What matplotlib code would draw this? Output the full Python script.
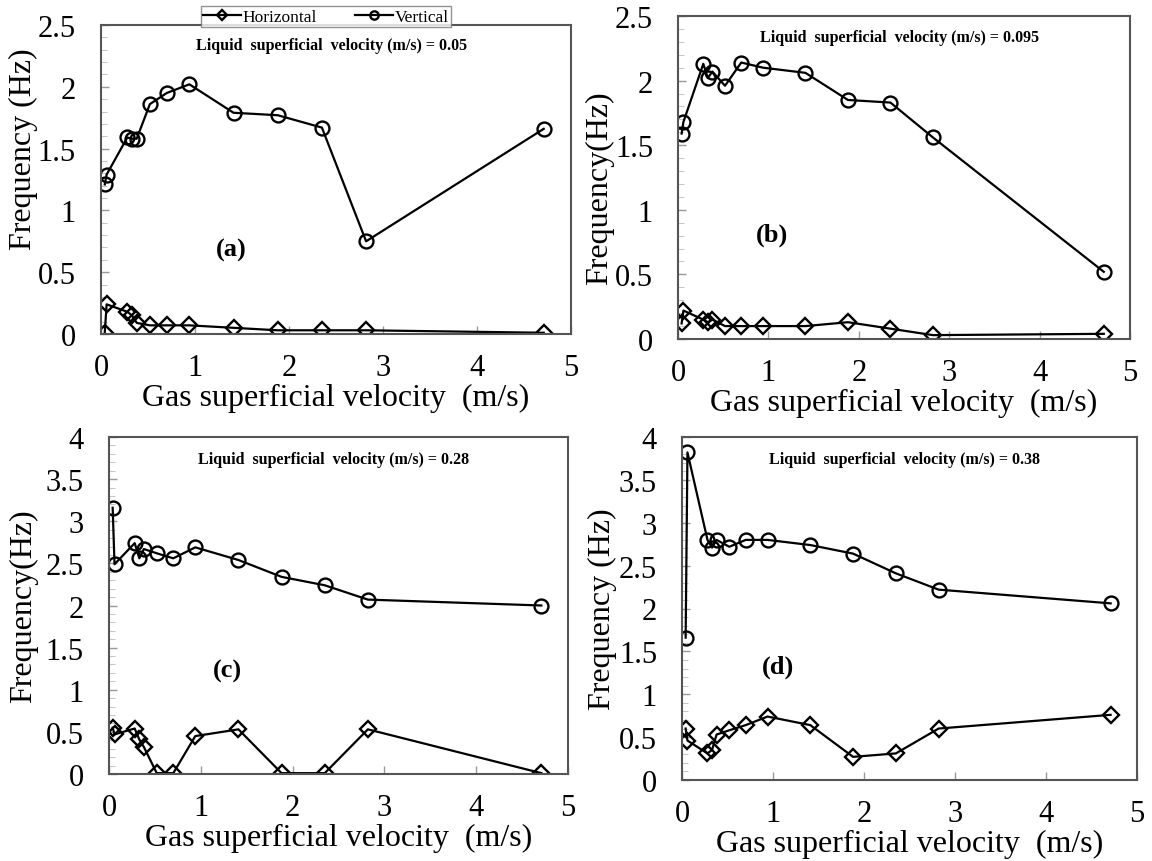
import matplotlib
matplotlib.use("Agg")
import matplotlib.pyplot as plt
from matplotlib.ticker import MultipleLocator

plt.rcParams['font.family'] = ['Liberation Serif', 'DejaVu Serif']

# velocidad superficial del gas (m/s), comun a los cuatro paneles
x_gas = [0.04, 0.06, 0.28, 0.33, 0.38, 0.52, 0.70, 0.94, 1.41, 1.88, 2.35, 2.82, 4.71]

# panel (a): Vsl = 0.05
vert_a = [1.21, 1.29, 1.59, 1.58, 1.58, 1.86, 1.95, 2.02, 1.79, 1.77, 1.67, 0.75, 1.66]
horiz_a = [0.01, 0.24, 0.18, 0.15, 0.09, 0.07, 0.07, 0.07, 0.05, 0.03, 0.03, 0.03, 0.01]

# panel (b): Vsl = 0.095
vert_b = [1.59, 1.68, 2.13, 2.02, 2.07, 1.96, 2.14, 2.10, 2.06, 1.85, 1.83, 1.56, 0.52]
horiz_b = [0.12, 0.22, 0.15, 0.13, 0.15, 0.10, 0.10, 0.10, 0.10, 0.13, 0.08, 0.03, 0.04]

# panel (c): Vsl = 0.28
vert_c = [3.16, 2.49, 2.74, 2.56, 2.67, 2.62, 2.56, 2.69, 2.54, 2.34, 2.24, 2.07, 2.00]
horiz_c = [0.55, 0.47, 0.54, 0.41, 0.32, 0.01, 0.01, 0.45, 0.53, 0.01, 0.01, 0.53, 0.01]

# panel (d): Vsl = 0.38
vert_d = [1.66, 3.82, 2.80, 2.71, 2.80, 2.72, 2.80, 2.80, 2.74, 2.64, 2.41, 2.22, 2.06]
horiz_d = [0.60, 0.46, 0.31, 0.35, 0.53, 0.58, 0.64, 0.74, 0.64, 0.27, 0.31, 0.60, 0.76]

paneles = [
    # (vertical, horizontal, ylim, ylabel, Vsl, letra, pos letra, pos ylabel)
    (vert_a, horiz_a, 2.5, "Frequency (Hz)", "0.05", "(a)", (1.39, 0.68), (-0.134, 0.60)),
    (vert_b, horiz_b, 2.5, "Frequency(Hz)", "0.095", "(b)", (1.04, 0.81), (-0.142, 0.47)),
    (vert_c, horiz_c, 4.0, "Frequency(Hz)", "0.28", "(c)", (1.29, 1.23), (-0.155, 0.50)),
    (vert_d, horiz_d, 4.0, "Frequency (Hz)", "0.38", "(d)", (1.06, 1.33), (-0.143, 0.50)),
]

# posiciones de los ejes en pixeles (izq, der, arriba, abajo)
cajas = [(101, 571, 26, 335), (678, 1130, 17, 340), (109, 568, 438, 775), (682, 1137, 438, 781)]

W, H = 1152, 862
fig = plt.figure(figsize=(W / 100, H / 100), dpi=100)

for (vert, horiz, ytop, ylab, vsl, letra, pos, ypos), (l, r, t, b) in zip(paneles, cajas):
    ax = fig.add_axes([l / W, 1 - b / H, (r - l) / W, (b - t) / H])
    lh, = ax.plot(x_gas, horiz, color='black', lw=1.6, marker='D', markersize=8,
                  markerfacecolor='none', markeredgewidth=1.7, label='Horizontal')
    lv, = ax.plot(x_gas, vert, color='black', lw=1.6, marker='o', markersize=10,
                  markerfacecolor='none', markeredgewidth=1.7, label='Vertical')
    ax.set_xlim(0, 5)
    ax.set_ylim(0, ytop)
    ax.xaxis.set_major_locator(MultipleLocator(1))
    ax.yaxis.set_major_locator(MultipleLocator(0.5))
    ax.yaxis.set_minor_locator(MultipleLocator(0.1))
    ax.tick_params(direction='in', color='#999999', labelsize=22, length=6, width=1)
    ax.tick_params(which='minor', direction='in', color='#bbbbbb', length=4)
    ax.tick_params(axis='x', pad=14)
    ax.tick_params(axis='y', pad=18)
    ax.set_yticklabels([f"{v:g}" for v in ax.get_yticks()])
    for s in ax.spines.values():
        s.set_color('#555555')
        s.set_linewidth(1.5)
    ax.set_xlabel("Gas superficial velocity  (m/s)", fontsize=23, labelpad=0)
    ax.set_ylabel(ylab, fontsize=23)
    ax.yaxis.set_label_coords(ypos[0], ypos[1])
    ax.text(2.45, ytop * 0.935, f"Liquid  superficial  velocity (m/s) = {vsl}",
            ha='center', va='center', fontsize=11.5, fontweight='bold')
    ax.text(pos[0], pos[1], letra, ha='center', va='center', fontsize=19, fontweight='bold')

leg = fig.legend(handles=[lh, lv], loc='center', bbox_to_anchor=(326 / W, 1 - 17.5 / H),
                 ncol=2, fontsize=12.5, frameon=True, fancybox=False, edgecolor='#777777',
                 handlelength=2.2, columnspacing=2.2, borderpad=0.12, borderaxespad=0,
                 handletextpad=0.1, markerscale=0.6)
leg.get_frame().set_linewidth(1)

fig.savefig("out.png", dpi=100)
